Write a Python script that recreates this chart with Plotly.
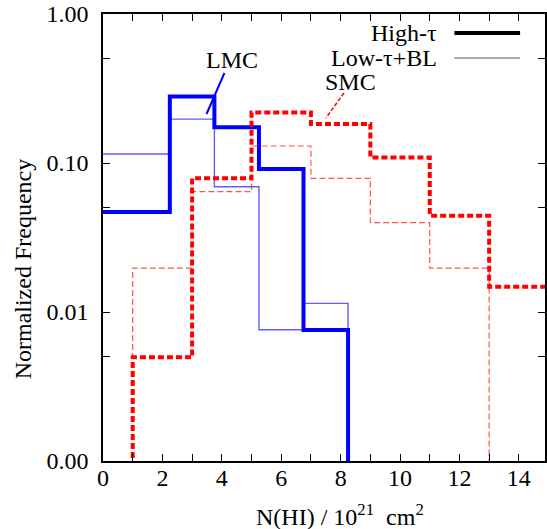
import plotly.graph_objects as go

# ---- data ----
lmc_edges = [0.0, 2.25, 3.75, 5.25, 6.75, 8.25]
lmc_high = [0.0469, 0.279, 0.174, 0.0912, 0.00757]
lmc_low = [0.115, 0.197, 0.0693, 0.0076, 0.01143]

smc_edges = [1.0, 3.0, 5.0, 7.0, 9.0, 11.0, 13.0, 15.0]
smc_high = [0.00497, 0.0789, 0.218, 0.183, 0.109, 0.0443, 0.0148]
smc_low = [0.0197, 0.0642, 0.130, 0.0789, 0.0398, 0.0197]

ytick_vals = [0.001, 0.01, 0.1, 1.0]
ytick_text = ["0.00", "0.01", "0.10", "1.00"]
xtick_vals = [0, 2, 4, 6, 8, 10, 12, 14]

FLOOR = 1e-6  # stand-in for empty bins on the log axis (drawn below the axis)


def steps(edges, vals, rise=False, drop=False):
    n = len(vals)
    xs, ys = [], []
    if rise:
        xs.append(edges[0]); ys.append(FLOOR)
    for i in range(n):
        xs.append(edges[i]); ys.append(vals[i])
    xs.append(edges[n]); ys.append(vals[-1])
    if drop:
        xs.append(edges[n]); ys.append(FLOOR)
    return xs, ys


FONT = "Liberation Serif"
FS = 24
fig = go.Figure()

x, y = steps(lmc_edges, lmc_low, drop=True)
fig.add_trace(go.Scatter(x=x, y=y, mode="lines", line_shape="hv",
                         line=dict(color="rgba(40,40,255,0.75)", width=1.4), showlegend=False))
x, y = steps(lmc_edges, lmc_high, drop=True)
fig.add_trace(go.Scatter(x=x, y=y, mode="lines", line_shape="hv",
                         line=dict(color="#0000ff", width=4), showlegend=False))
x, y = steps(smc_edges[:len(smc_low) + 1], smc_low, rise=True, drop=True)
fig.add_trace(go.Scatter(x=x, y=y, mode="lines", line_shape="hv",
                         line=dict(color="rgba(255,40,40,0.8)", width=1.2, dash="6px,3px"),
                         showlegend=False))
x, y = steps(smc_edges, smc_high, rise=True, drop=False)
fig.add_trace(go.Scatter(x=x, y=y, mode="lines", line_shape="hv",
                         line=dict(color="#ff0000", width=4, dash="6px,3px"), showlegend=False))

L, R, T, B = 103, 0, 14, 68
W, H = 547, 529
pw, ph = W - L - R, H - T - B


def px(xp):
    return (xp - L) / pw


def py(yp):
    return (H - B - yp) / ph


def text(xp, yp, s, xanchor="center", angle=0):
    fig.add_annotation(x=px(xp), y=py(yp), xref="paper", yref="paper", text=s,
                       showarrow=False, xanchor=xanchor, yanchor="middle", textangle=angle,
                       font=dict(family=FONT, size=FS, color="black"))


# legend (gnuplot style: text right-aligned, sample on the right)
text(441, 33, "High-τ", xanchor="right")
text(441, 58, "Low-τ+BL", xanchor="right")
fig.add_shape(type="line", xref="paper", yref="paper", x0=px(456), x1=px(522),
              y0=py(33), y1=py(33), line=dict(color="black", width=4))
fig.add_shape(type="line", xref="paper", yref="paper", x0=px(456), x1=px(522),
              y0=py(58), y1=py(58), line=dict(color="#555555", width=1.2))

# region labels
text(233, 60, "LMC")
text(352, 82, "SMC")
fig.add_shape(type="line", xref="paper", yref="paper", x0=px(225), y0=py(73),
              x1=px(207), y1=py(114), line=dict(color="#0000ff", width=2))
fig.add_shape(type="line", xref="paper", yref="paper", x0=px(345), y0=py(93),
              x1=px(327), y1=py(118), line=dict(color="#ff0000", width=1.5, dash="4px,2px"))

# axis titles
text(341, 515, "N(HI) / 10<sup>21</sup>&nbsp; cm<sup>2</sup>")
text(23, 269, "Normalized Frequency", angle=-90)

fig.update_layout(
    width=W, height=H, margin=dict(l=L, r=R, t=T, b=B),
    paper_bgcolor="white", plot_bgcolor="white",
    font=dict(family=FONT, size=FS, color="black"),
    xaxis=dict(range=[0, 14.88], tickvals=xtick_vals, ticks="inside", ticklen=7,
               tickcolor="black", tickwidth=1, showline=True, linecolor="black",
               linewidth=1.5, mirror="ticks", showgrid=False, zeroline=False,
               minor=dict(dtick=1, ticks="inside", ticklen=7, tickcolor="black", showgrid=False),
               tickfont=dict(family=FONT, size=FS), ticklabelstandoff=-6),
    yaxis=dict(type="log", range=[-3, 0], tickvals=ytick_vals, ticktext=ytick_text,
               ticks="inside", ticklen=7, tickcolor="black", tickwidth=1, showline=True,
               linecolor="black", linewidth=1.5, mirror="ticks", showgrid=False,
               zeroline=False,
               minor=dict(tickvals=[0.005, 0.05, 0.5], ticks="inside", ticklen=7,
                          tickcolor="black", showgrid=False),
               tickfont=dict(family=FONT, size=FS), ticklabelstandoff=8),
)

fig.write_html("out.html")
